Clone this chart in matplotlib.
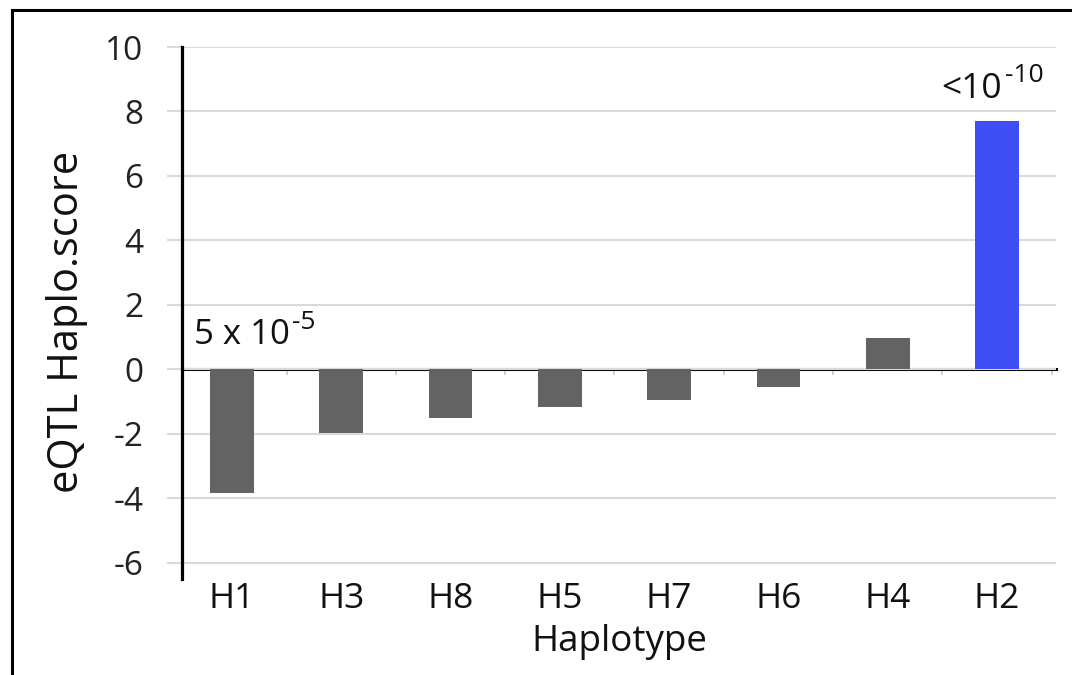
import matplotlib
matplotlib.use("Agg")
import matplotlib.pyplot as plt
from matplotlib.patches import Rectangle

plt.rcParams["font.family"] = ["Open Sans", "DejaVu Sans"]

haplotypes = ["H1", "H3", "H8", "H5", "H7", "H6", "H4", "H2"]
scores = [-3.82, -1.98, -1.5, -1.18, -0.95, -0.53, 0.98, 7.7]
bar_colors = ["#636363"] * 7 + ["#3f4ff5"]
yticks = [-6, -4, -2, 0, 2, 4, 6, 8, 10]

W, H = 1072, 675
fig = plt.figure(figsize=(W / 100, H / 100), dpi=100)
fig.patch.set_facecolor("white")
ax = fig.add_axes([182 / W, 1 - 579 / H, 874 / W, 532 / H])

ax.bar(range(len(haplotypes)), scores, width=0.4, color=bar_colors, zorder=3)

ax.set_xlim(-0.457, len(haplotypes) - 0.46)
ax.set_ylim(-6.5, 10)
ax.set_yticks(yticks)
ax.set_yticklabels([str(v) for v in yticks])
ax.yaxis.grid(True, color="#d9d9d9", linewidth=1.5, zorder=0)
ax.tick_params(axis="y", length=10.8, width=1.5, color="#d9d9d9", pad=17,
               labelsize=24, labelcolor="#222222")
ax.set_xticks(range(len(haplotypes)))
ax.set_xticklabels(haplotypes)
ax.tick_params(axis="x", length=0, pad=2, labelsize=25.5, labelcolor="#111111")

for side in ["top", "right", "bottom"]:
    ax.spines[side].set_visible(False)
ax.spines["left"].set_linewidth(2.3)
ax.spines["left"].set_color("black")

# zero line with category boundary ticks
zero_frac = (0 - (-6.5)) / 16.5
sec = ax.secondary_xaxis(zero_frac)
sec.set_xticks([i - 0.5 for i in range(len(haplotypes) + 1)])
sec.set_xticklabels([])
sec.tick_params(axis="x", direction="out", length=4.5, width=1.2, color="#c8c8c8")
sec.spines["bottom"].set_linewidth(2.2)
sec.spines["bottom"].set_color("black")
sec.spines["bottom"].set_zorder(5)

ax.set_xlabel("Haplotype", fontsize=26.5, color="#111111", labelpad=6)
ax.set_ylabel("eQTL Haplo.score", fontsize=30, color="#111111")
ax.yaxis.set_label_coords((88 - 182) / 874, (579 - 322) / 532)

# p-value annotations
def ftext(x, y, s, size):
    fig.text(x / W, 1 - y / H, s, fontsize=size, color="#111111", va="baseline", ha="left")

ftext(194, 344, "5 x 10", 25)
ftext(292, 329, "-5", 19)
ftext(941, 98, "<10", 25.5)
ftext(1005, 82, "-10", 19)

# outer frame (left/top visible, cut off at right and bottom)
fig.add_artist(Rectangle((12 / W, -0.2), 1.3, 1.2 - 10 / H, transform=fig.transFigure,
                         fill=False, edgecolor="black", linewidth=2.2, clip_on=False))

fig.savefig("out.png", dpi=100, facecolor="white")
